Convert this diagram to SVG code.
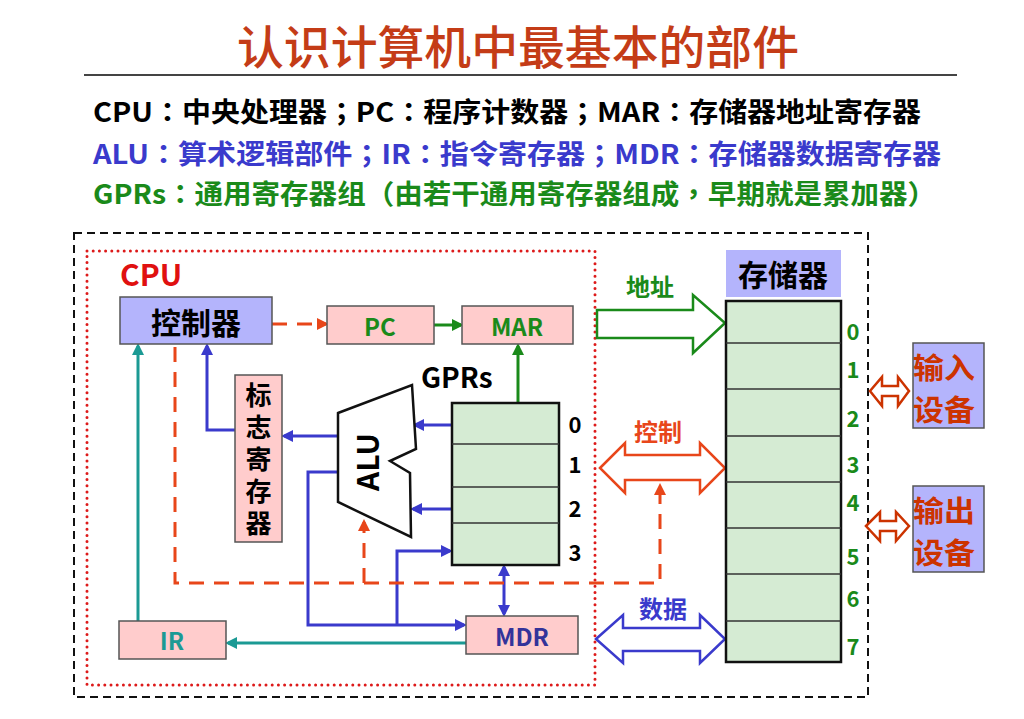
<svg xmlns="http://www.w3.org/2000/svg" width="1024" height="719" viewBox="0 0 1024 719">
<style>
text{font-family:"Noto Sans CJK SC","Noto Sans",sans-serif;font-weight:bold;dominant-baseline:central}
.p{font-family:"Noto Sans CJK TC","Noto Sans CJK SC",sans-serif}
.box{stroke:#555;stroke-width:1.5}
.lav{fill:#b4b4fc}
.pink{fill:#ffcccc}
.grn{fill:#d5ebd3;stroke:#111;stroke-width:2.5}
.div{stroke:#333;stroke-width:1.5}
.blue{stroke:#3a3acc;stroke-width:3;fill:none}
.teal{stroke:#1b9a94;stroke-width:3;fill:none}
.green{stroke:#1a8a1a;stroke-width:3;fill:none}
.rdash{stroke:#e8461a;stroke-width:3;fill:none;stroke-dasharray:15 10}
.num{font-size:22px}
.dev{font-size:29px;fill:#cc3300}
</style>
<defs>
<marker id="mBlue" markerWidth="12" markerHeight="12" refX="9" refY="6" orient="auto" markerUnits="userSpaceOnUse"><path d="M0,0 L12,6 L0,12 z" fill="#3a3acc"/></marker>
<marker id="mBlueS" markerWidth="12" markerHeight="12" refX="9" refY="6" orient="auto-start-reverse" markerUnits="userSpaceOnUse"><path d="M0,0 L12,6 L0,12 z" fill="#3a3acc"/></marker>
<marker id="mTeal" markerWidth="12" markerHeight="12" refX="9" refY="6" orient="auto" markerUnits="userSpaceOnUse"><path d="M0,0 L12,6 L0,12 z" fill="#1b9a94"/></marker>
<marker id="mGreen" markerWidth="12" markerHeight="12" refX="9" refY="6" orient="auto" markerUnits="userSpaceOnUse"><path d="M0,0 L12,6 L0,12 z" fill="#1a8a1a"/></marker>
<marker id="mRed" markerWidth="12" markerHeight="12" refX="9" refY="6" orient="auto" markerUnits="userSpaceOnUse"><path d="M0,0 L12,6 L0,12 z" fill="#e8461a"/></marker>
</defs>
<rect width="1024" height="719" fill="#fff"/>

<g id="title">
<text x="518" y="44" font-size="46" text-anchor="middle" fill="#c43c17" style="font-weight:500" textLength="562" lengthAdjust="spacingAndGlyphs">认识计算机中最基本的部件</text>
<line x1="84" y1="75" x2="957" y2="75" stroke="#444" stroke-width="2"/>
</g>

<g id="legend">
<text x="93" y="110" font-size="27" fill="#000" textLength="828" lengthAdjust="spacingAndGlyphs">CPU<tspan class="p">：</tspan>中央处理器<tspan class="p">；</tspan>PC<tspan class="p">：</tspan>程序计数器<tspan class="p">；</tspan>MAR<tspan class="p">：</tspan>存储器地址寄存器</text>
<text x="93" y="152" font-size="27" fill="#3a3acc" textLength="848" lengthAdjust="spacingAndGlyphs">ALU<tspan class="p">：</tspan>算术逻辑部件<tspan class="p">；</tspan>IR<tspan class="p">：</tspan>指令寄存器<tspan class="p">；</tspan>MDR<tspan class="p">：</tspan>存储器数据寄存器</text>
<text x="93" y="192" font-size="27" fill="#1a8a1a" textLength="843" lengthAdjust="spacingAndGlyphs">GPRs<tspan class="p">：</tspan>通用寄存器组<tspan class="p">（</tspan>由若干通用寄存器组成<tspan class="p">，</tspan>早期就是累加器<tspan class="p">）</tspan></text>
</g>

<g id="computer-boundary">
<rect x="74" y="233" width="794" height="464" fill="none" stroke="#111" stroke-width="2" stroke-dasharray="8 5"/>
</g>

<g id="cpu-boundary">
<rect x="87" y="251" width="508" height="434" fill="none" stroke="#dd1a1a" stroke-width="3" stroke-linecap="round" stroke-dasharray="0 6.2"/>
<text x="120" y="273" font-size="30" fill="#e01010">CPU</text>
</g>

<g id="connectors">
<line class="rdash" x1="272" y1="324" x2="326" y2="324" marker-end="url(#mRed)"/>
<line class="green" x1="434" y1="325" x2="461" y2="325" marker-end="url(#mGreen)"/>
<line class="green" x1="518" y1="402" x2="518" y2="346" marker-end="url(#mGreen)"/>
<line class="blue" x1="452" y1="425" x2="415" y2="425" marker-end="url(#mBlue)"/>
<line class="blue" x1="452" y1="509" x2="413" y2="509" marker-end="url(#mBlue)"/>
<line class="blue" x1="337" y1="436" x2="284" y2="436" marker-end="url(#mBlue)"/>
<polyline class="blue" points="235,430 207,430 207,346" marker-end="url(#mBlue)"/>
<line class="teal" x1="138" y1="621" x2="138" y2="346" marker-end="url(#mTeal)"/>
<line class="teal" x1="466" y1="643" x2="228" y2="643" marker-end="url(#mTeal)"/>
<polyline class="blue" points="337,472 308,472 308,625 464,625" marker-end="url(#mBlue)"/>
<polyline class="blue" points="397,625 397,551 450,551" marker-end="url(#mBlue)"/>
<line class="blue" x1="504" y1="567" x2="504" y2="614" marker-start="url(#mBlueS)" marker-end="url(#mBlueS)"/>
<polyline class="rdash" points="175,347 175,583 660,583 660,486" marker-end="url(#mRed)"/>
<line class="rdash" x1="364" y1="583" x2="364" y2="522" marker-end="url(#mRed)"/>
<path d="M597,310 L693,310 L693,295 L725,323 L693,353 L693,338 L597,338 Z" fill="#fff" stroke="#1a8a1a" stroke-width="2.5" stroke-linejoin="miter"/>
<path d="M600,468 L625,443 L625,455 L700,455 L700,443 L725,468 L700,493 L700,480 L625,480 L625,493 Z" fill="#fff" stroke="#e8461a" stroke-width="2.5"/>
<path d="M596,639 L623,615 L623,628 L700,628 L700,615 L725,639 L700,663 L700,651 L623,651 L623,663 Z" fill="#fff" stroke="#3a3acc" stroke-width="2.5"/>
<path d="M870,391 L882,377 L882,386 L898,386 L898,377 L909,391 L898,406 L898,396 L882,396 L882,406 Z" fill="#fff" stroke="#cc3300" stroke-width="2.5"/>
<path d="M866,526 L880,512 L880,521 L896,521 L896,512 L909,526 L896,541 L896,531 L880,531 L880,541 Z" fill="#fff" stroke="#cc3300" stroke-width="2.5"/>
<text x="650" y="285" font-size="24" text-anchor="middle" fill="#1a8a1a">地址</text>
<text x="658" y="430" font-size="24" text-anchor="middle" fill="#e8461a">控制</text>
<text x="663" y="607" font-size="24" text-anchor="middle" fill="#3a3acc">数据</text>
</g>

<g id="controller">
<rect class="box lav" x="120" y="297" width="152" height="47"/>
<text x="196" y="321" font-size="30" text-anchor="middle" fill="#000">控制器</text>
</g>

<g id="pc">
<rect class="box pink" x="327" y="306" width="107" height="38"/>
<text x="380" y="325" font-size="24" text-anchor="middle" fill="#1a8a1a">PC</text>
</g>

<g id="mar">
<rect class="box pink" x="462" y="306" width="111" height="38"/>
<text x="517" y="325" font-size="24" text-anchor="middle" fill="#1a8a1a">MAR</text>
</g>

<g id="flags">
<rect class="box pink" x="235" y="375" width="47" height="167"/>
<text x="258.500" y="462" font-size="26" fill="#000" text-anchor="middle" writing-mode="vertical-rl" letter-spacing="6">标志寄存器</text>
</g>

<g id="alu">
<polygon points="338,413 412,385 416,449 390,461 410,473 411,537 338,502" fill="#fff" stroke="#111" stroke-width="2.5" stroke-linejoin="miter"/>
<text x="366" y="462" font-size="30" text-anchor="middle" fill="#000" transform="rotate(-90 366 462)">ALU</text>
</g>

<g id="gprs">
<text x="421" y="376" font-size="28" fill="#000">GPRs</text>
<rect class="grn" x="452" y="403" width="107" height="162"/>
<line class="div" x1="452" y1="444" x2="559" y2="444"/>
<line class="div" x1="452" y1="487" x2="559" y2="487"/>
<line class="div" x1="452" y1="523" x2="559" y2="523"/>
<g class="num" fill="#000" text-anchor="middle">
<text x="575" y="423">0</text>
<text x="575" y="463">1</text>
<text x="575" y="507">2</text>
<text x="575" y="551">3</text>
</g>
</g>

<g id="ir">
<rect class="box pink" x="119" y="621" width="107" height="38"/>
<text x="172" y="639" font-size="24" text-anchor="middle" fill="#1b9a94">IR</text>
</g>

<g id="mdr">
<rect class="box pink" x="466" y="616" width="112" height="38"/>
<text x="522" y="635" font-size="24" text-anchor="middle" fill="#33339a">MDR</text>
</g>

<g id="memory">
<rect class="lav" x="726" y="250" width="115" height="47"/>
<text x="783" y="273" font-size="30" text-anchor="middle" fill="#000">存储器</text>
<rect class="grn" x="726" y="301" width="115" height="361"/>
<line class="div" x1="726" y1="343" x2="841" y2="343"/>
<line class="div" x1="726" y1="389" x2="841" y2="389"/>
<line class="div" x1="726" y1="436" x2="841" y2="436"/>
<line class="div" x1="726" y1="482" x2="841" y2="482"/>
<line class="div" x1="726" y1="528" x2="841" y2="528"/>
<line class="div" x1="726" y1="574" x2="841" y2="574"/>
<line class="div" x1="726" y1="621" x2="841" y2="621"/>
<g class="num" fill="#1a8a1a" text-anchor="middle">
<text x="853" y="330">0</text>
<text x="853" y="368">1</text>
<text x="853" y="417">2</text>
<text x="853" y="463">3</text>
<text x="853" y="501">4</text>
<text x="853" y="555">5</text>
<text x="853" y="597">6</text>
<text x="853" y="645">7</text>
</g>
</g>

<g id="input-device">
<rect class="box lav" x="913" y="343" width="71" height="85"/>
<text class="dev" x="913" y="366" textLength="62" lengthAdjust="spacingAndGlyphs">输入</text>
<text class="dev" x="913" y="408" textLength="62" lengthAdjust="spacingAndGlyphs">设备</text>
</g>

<g id="output-device">
<rect class="box lav" x="913" y="486" width="71" height="86"/>
<text class="dev" x="913" y="509" textLength="62" lengthAdjust="spacingAndGlyphs">输出</text>
<text class="dev" x="913" y="551" textLength="62" lengthAdjust="spacingAndGlyphs">设备</text>
</g>
</svg>
